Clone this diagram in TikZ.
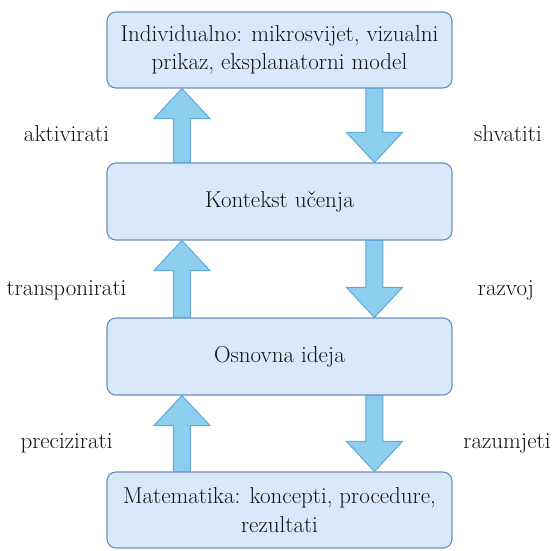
\documentclass[tikz,border=0pt]{standalone}
\usetikzlibrary{calc}
\definecolor{boxfill}{HTML}{DAE8FC}
\definecolor{boxline}{HTML}{6C8EBF}
\definecolor{arrfill}{HTML}{8DCDEE}
\definecolor{arrline}{HTML}{5FAAD8}
\definecolor{txt}{HTML}{111111}
\tikzset{
  box/.style={draw=boxline, fill=boxfill, line width=1.1pt, rounded corners=9pt,
    minimum width=345pt, minimum height=76pt, align=center, text=txt,
    font=\fontsize{23}{28.5}\selectfont, inner sep=0pt},
  lab/.style={text=txt, font=\fontsize{23}{28.5}\selectfont, inner sep=0pt},
  fatarr/.style={draw=arrline, fill=arrfill, line width=1pt, line join=miter}
}
\newcommand\fatarrow[2]{%
  \draw[fatarr] let \p1=(#1), \p2=(#2), \n1={sign(\y2-\y1)} in
   (\x1-8.5pt,\y1) -- (\x1-8.5pt,\y2-\n1*30pt) -- (\x1-28pt,\y2-\n1*30pt) -- (\x2,\y2)
   -- (\x1+28pt,\y2-\n1*30pt) -- (\x1+8.5pt,\y2-\n1*30pt) -- (\x1+8.5pt,\y1) -- cycle;}
\begin{document}
\begin{tikzpicture}[x=1pt,y=-1pt]
\useasboundingbox (0,0) rectangle (552,550);
\fill[white] (0,0) rectangle (552,550);
\node[box] (b1) at (279.5,50) {Individualno: mikrosvijet, vizualni\\prikaz, eksplanatorni model};
\node[box, minimum height=77pt] (b2) at (279.5,201.5) {Kontekst učenja};
\node[box, minimum height=77pt] (b3) at (279.5,356.5) {Osnovna ideja};
\node[box] (b4) at (279.5,510) {Matematika: koncepti, procedure,\\rezultati};
% arrow endpoints
\coordinate (u1s) at ($(b2.north west)+(75.5pt,0)$);
\coordinate (u1e) at ($(b1.south west)+(75.5pt,0)$);
\coordinate (d1s) at ($(b1.south west)+(268pt,0)$);
\coordinate (d1e) at ($(b2.north west)+(268pt,0)$);
\coordinate (u2s) at ($(b3.north west)+(75.5pt,0)$);
\coordinate (u2e) at ($(b2.south west)+(75.5pt,0)$);
\coordinate (d2s) at ($(b2.south west)+(268pt,0)$);
\coordinate (d2e) at ($(b3.north west)+(268pt,0)$);
\coordinate (u3s) at ($(b4.north west)+(75.5pt,0)$);
\coordinate (u3e) at ($(b3.south west)+(75.5pt,0)$);
\coordinate (d3s) at ($(b3.south west)+(268pt,0)$);
\coordinate (d3e) at ($(b4.north west)+(268pt,0)$);
\fatarrow{u1s}{u1e}
\fatarrow{d1s}{d1e}
\fatarrow{u2s}{u2e}
\fatarrow{d2s}{d2e}
\fatarrow{u3s}{u3e}
\fatarrow{d3s}{d3e}
\node[lab] (l1) at (66.5,134) {aktivirati};
\node[lab] (r1) at (508,134) {shvatiti};
\node[lab] (l2) at (66.5,290) {transponirati};
\node[lab] (r2) at (506,290) {razvoj};
\node[lab] (l3) at (66.5,443) {precizirati};
\node[lab] (r3) at (507,443) {razumjeti};
\end{tikzpicture}
\end{document}
